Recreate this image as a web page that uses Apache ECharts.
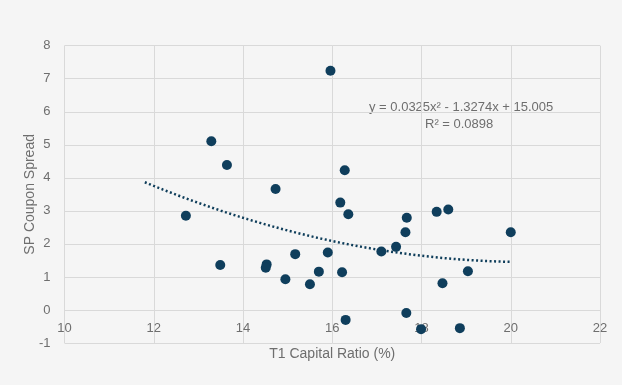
<!DOCTYPE html>
<html>
<head>
<meta charset="utf-8">
<script src="https://cdn.jsdelivr.net/npm/echarts@6/dist/echarts.min.js"></script>
<style>
  html, body { margin: 0; padding: 0; background: #f5f5f5; }
  #chart { width: 622px; height: 385px; }
</style>
</head>
<body>
<div id="chart"></div>
<script>
// T1 capital ratio (%) against senior preferred coupon spread
const capitalRatio = [
  15.96, 13.29, 13.64, 14.73, 16.28, 16.18, 16.36, 12.72, 13.49, 14.53,
  14.51, 15.17, 15.90, 14.95, 15.70, 15.50, 16.22, 16.30, 17.10, 17.43,
  17.67, 17.64, 18.34, 18.60, 20.00, 19.04, 18.47, 17.66, 17.99, 18.86
];
const couponSpread = [
  7.24, 5.11, 4.39, 3.66, 4.23, 3.25, 2.90, 2.85, 1.36, 1.38,
  1.28, 1.69, 1.74, 0.93, 1.16, 0.78, 1.14, -0.30, 1.77, 1.91,
  2.79, 2.35, 2.97, 3.04, 2.35, 1.17, 0.81, -0.09, -0.58, -0.55
];

// Polynomial (order 2) trendline as stated in the equation label
const trendCoef = { a: 0.0325, b: -1.3274, c: 15.005 };
const trendRange = [11.8, 20];
const rSquared = 0.0898;

const xTicks = { min: 10, max: 22, step: 2 };
const yTicks = { min: -1, max: 8, step: 1 };

const points = capitalRatio.map((x, i) => [x, couponSpread[i]]);
const trend = [];
for (let k = 0; k <= 82; k++) {
  const x = trendRange[0] + (trendRange[1] - trendRange[0]) * k / 82;
  trend.push([x, trendCoef.a * x * x + trendCoef.b * x + trendCoef.c]);
}

const textColor = '#6e6e6e';
const gridColor = '#d9d9d9';
const font = '"Liberation Sans", Arial, Helvetica, sans-serif';

const W = 622, H = 385;
const grid = { left: 64.5, right: 22, top: 45.7, bottom: 42 };
// horizontal axis sits where the value axis reads zero
const plotHeight = H - grid.top - grid.bottom;
const zeroOffset = -plotHeight * (0 - yTicks.min) / (yTicks.max - yTicks.min);

const chart = echarts.init(document.getElementById('chart'), null, { renderer: 'canvas' });
chart.setOption({
  backgroundColor: '#f5f5f5',
  animation: false,
  textStyle: { fontFamily: font },
  grid: grid,
  xAxis: {
    type: 'value',
    min: xTicks.min, max: xTicks.max, interval: xTicks.step,
    offset: zeroOffset,
    name: 'T1 Capital Ratio (%)',
    nameLocation: 'middle',
    nameGap: 37,
    nameMoveOverlap: false,
    nameTextStyle: { color: textColor, fontSize: 14, fontFamily: font },
    axisLine: { show: false, onZero: false },
    axisTick: { show: false },
    axisLabel: { color: textColor, fontSize: 13, margin: 12, fontFamily: font },
    splitLine: { show: true, lineStyle: { color: gridColor, width: 1 } }
  },
  yAxis: {
    type: 'value',
    min: yTicks.min, max: yTicks.max, interval: yTicks.step,
    name: 'SP Coupon Spread',
    nameLocation: 'middle',
    nameGap: 27,
    nameMoveOverlap: false,
    nameTextStyle: { color: textColor, fontSize: 14, fontFamily: font },
    axisLine: { show: false, onZero: false },
    axisTick: { show: false },
    axisLabel: { color: textColor, fontSize: 13, margin: 14, fontFamily: font },
    splitLine: { show: true, lineStyle: { color: gridColor, width: 1 } }
  },
  graphic: [
    {
      type: 'text', left: 369, top: 101,
      style: {
        text: 'y = 0.0325x\u00b2 - 1.3274x + 15.005',
        fill: textColor, font: '13px ' + font
      }
    },
    {
      type: 'text', left: 425, top: 118,
      style: {
        text: 'R\u00b2 = ' + rSquared,
        fill: textColor, font: '13px ' + font
      }
    }
  ],
  series: [
    {
      type: 'line',
      data: trend,
      showSymbol: false,
      silent: true,
      z: 1,
      lineStyle: { color: '#0e3d5a', width: 2.5, type: [2, 2.5] }
    },
    {
      type: 'scatter',
      data: points,
      symbolSize: 10,
      z: 3,
      itemStyle: { color: '#0f3e5c', opacity: 1 }
    }
  ]
});
</script>
</body>
</html>
